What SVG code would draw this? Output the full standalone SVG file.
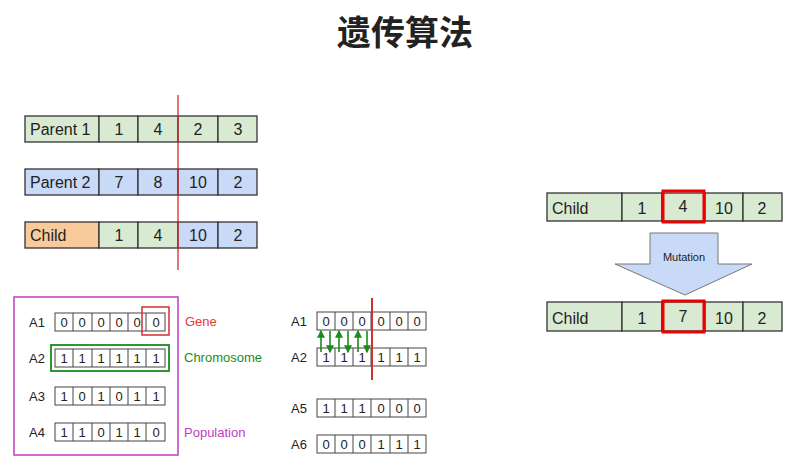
<svg xmlns="http://www.w3.org/2000/svg" width="800" height="469" viewBox="0 0 800 469">
<defs>
<style>
text{font-family:"Liberation Sans",Arial,sans-serif;fill:#222}
.c{text-anchor:middle}
.g{fill:#d9ead3;stroke:#333;stroke-width:1.3}
.b{fill:#c9daf8;stroke:#333;stroke-width:1.3}
.o{fill:#f9cb9c;stroke:#333;stroke-width:1.3}
.w{fill:#fff;stroke:#444;stroke-width:1}
.t{font-size:16px}
.s{font-size:13px}
</style>
<marker id="ah" viewBox="0 0 6 6" refX="5" refY="3" markerWidth="5" markerHeight="5" orient="auto"><path d="M0,0L6,3L0,6z" fill="#1a8c1a"/></marker>
</defs>
<rect width="800" height="469" fill="#fff"/>
<text x="405" y="45" class="c" style="font-family:'Noto Sans CJK SC',serif;font-size:34px;font-weight:bold" fill="#000">遗传算法</text>

<g id="parent1">
<rect class="g" x="25" y="116" width="74" height="26"/><rect class="g" x="99" y="116" width="39" height="26"/><rect class="g" x="138" y="116" width="40" height="26"/><rect class="g" x="178" y="116" width="40" height="26"/><rect class="g" x="218" y="116" width="39" height="26"/>
<text class="t" x="30" y="135">Parent 1</text><text class="t c" x="119" y="135">1</text><text class="t c" x="158" y="135">4</text><text class="t c" x="198" y="135">2</text><text class="t c" x="238" y="135">3</text>
</g>
<g id="parent2">
<rect class="b" x="25" y="169" width="74" height="26"/><rect class="b" x="99" y="169" width="39" height="26"/><rect class="b" x="138" y="169" width="40" height="26"/><rect class="b" x="178" y="169" width="40" height="26"/><rect class="b" x="218" y="169" width="39" height="26"/>
<text class="t" x="30" y="188">Parent 2</text><text class="t c" x="119" y="188">7</text><text class="t c" x="158" y="188">8</text><text class="t c" x="198" y="188">10</text><text class="t c" x="238" y="188">2</text>
</g>
<g id="child">
<rect class="o" x="25" y="222" width="74" height="26"/><rect class="g" x="99" y="222" width="39" height="26"/><rect class="g" x="138" y="222" width="40" height="26"/><rect class="b" x="178" y="222" width="40" height="26"/><rect class="b" x="218" y="222" width="39" height="26"/>
<text class="t" x="30" y="241">Child</text><text class="t c" x="119" y="241">1</text><text class="t c" x="158" y="241">4</text><text class="t c" x="198" y="241">10</text><text class="t c" x="238" y="241">2</text>
</g>
<g id="cut1"><line x1="178" y1="95" x2="178" y2="270" stroke="#d32f2f" stroke-width="1.3"/></g>

<g id="mut-before">
<rect class="g" x="547" y="193" width="75" height="28"/><rect class="g" x="622" y="193" width="40" height="28"/><rect class="g" x="662" y="193" width="43" height="28"/><rect class="g" x="705" y="193" width="38" height="28"/><rect class="g" x="743" y="193" width="39" height="28"/>
<rect x="663" y="191" width="41" height="31" fill="none" stroke="#e00" stroke-width="3"/>
<text class="t" x="552" y="214">Child</text><text class="t c" x="642" y="214">1</text><text class="t c" x="683" y="212">4</text><text class="t c" x="724" y="214">10</text><text class="t c" x="762" y="214">2</text>
</g>
<g id="mutation">
<path d="M650,233H718V264H752L685,295L615,264H650Z" fill="#c9daf8" stroke="#777" stroke-width="1"/>
<text class="c" x="684" y="261" font-size="11">Mutation</text>
</g>
<g id="mut-after">
<rect class="g" x="547" y="302" width="75" height="29"/><rect class="g" x="622" y="302" width="40" height="29"/><rect class="g" x="662" y="302" width="43" height="29"/><rect class="g" x="705" y="302" width="38" height="29"/><rect class="g" x="743" y="302" width="39" height="29"/>
<rect x="663" y="301" width="41" height="31" fill="none" stroke="#e00" stroke-width="3"/>
<text class="t" x="552" y="324">Child</text><text class="t c" x="642" y="324">1</text><text class="t c" x="683" y="322">7</text><text class="t c" x="724" y="324">10</text><text class="t c" x="762" y="324">2</text>
</g>

<g id="population">
<rect x="14" y="297" width="164" height="158" fill="none" stroke="#c03cc0" stroke-width="1.5"/>
<g id="pA1"><text class="s" x="29" y="327">A1</text><rect class="w" x="55" y="313" width="110" height="18"/>
<g class="s c"><text x="64" y="327">0</text><text x="82" y="327">0</text><text x="101" y="327">0</text><text x="119" y="327">0</text><text x="137" y="327">0</text><text x="156" y="327">0</text></g>
<path d="M73,313V331M92,313V331M110,313V331M128,313V331M146,313V331" stroke="#444"/></g>
<g id="pA2"><text class="s" x="29" y="363">A2</text><rect class="w" x="55" y="349" width="110" height="18"/>
<g class="s c"><text x="64" y="363">1</text><text x="82" y="363">1</text><text x="101" y="363">1</text><text x="119" y="363">1</text><text x="137" y="363">1</text><text x="156" y="363">1</text></g>
<path d="M73,349V367M92,349V367M110,349V367M128,349V367M146,349V367" stroke="#444"/></g>
<g id="pA3"><text class="s" x="29" y="401">A3</text><rect class="w" x="55" y="387" width="110" height="18"/>
<g class="s c"><text x="64" y="401">1</text><text x="82" y="401">0</text><text x="101" y="401">1</text><text x="119" y="401">0</text><text x="137" y="401">1</text><text x="156" y="401">1</text></g>
<path d="M73,387V405M92,387V405M110,387V405M128,387V405M146,387V405" stroke="#444"/></g>
<g id="pA4"><text class="s" x="29" y="437">A4</text><rect class="w" x="55" y="423" width="110" height="18"/>
<g class="s c"><text x="64" y="437">1</text><text x="82" y="437">1</text><text x="101" y="437">0</text><text x="119" y="437">1</text><text x="137" y="437">1</text><text x="156" y="437">0</text></g>
<path d="M73,423V441M92,423V441M110,423V441M128,423V441M146,423V441" stroke="#444"/></g>
<rect x="142" y="307" width="27" height="28" fill="none" stroke="#d32f2f" stroke-width="1.5"/>
<rect x="51" y="345" width="118" height="26" fill="none" stroke="#1a8c1a" stroke-width="1.8"/>
<text x="185" y="326" font-size="13" style="fill:#e53935">Gene</text>
<text x="184" y="362" font-size="13" style="fill:#1a8c1a">Chromosome</text>
<text x="184" y="437" font-size="13" style="fill:#c03cc0">Population</text>
</g>

<g id="crossover">
<g id="cA1"><text class="s" x="291" y="326">A1</text><rect class="w" x="317" y="312" width="109" height="18"/>
<g class="s c"><text x="326" y="326">0</text><text x="344" y="326">0</text><text x="362" y="326">0</text><text x="381" y="326">0</text><text x="399" y="326">0</text><text x="417" y="326">0</text></g>
<path d="M335,312V330M353,312V330M371,312V330M390,312V330M408,312V330" stroke="#444"/></g>
<g id="cA2"><text class="s" x="291" y="362">A2</text><rect class="w" x="317" y="348" width="109" height="18"/>
<g class="s c"><text x="326" y="362">1</text><text x="344" y="362">1</text><text x="362" y="362">1</text><text x="381" y="362">1</text><text x="399" y="362">1</text><text x="417" y="362">1</text></g>
<path d="M335,348V366M353,348V366M371,348V366M390,348V366M408,348V366" stroke="#444"/></g>
<g id="cA5"><text class="s" x="291" y="413">A5</text><rect class="w" x="317" y="399" width="109" height="18"/>
<g class="s c"><text x="326" y="413">1</text><text x="344" y="413">1</text><text x="362" y="413">1</text><text x="381" y="413">0</text><text x="399" y="413">0</text><text x="417" y="413">0</text></g>
<path d="M335,399V417M353,399V417M371,399V417M390,399V417M408,399V417" stroke="#444"/></g>
<g id="cA6"><text class="s" x="291" y="449">A6</text><rect class="w" x="317" y="435" width="109" height="18"/>
<g class="s c"><text x="326" y="449">0</text><text x="344" y="449">0</text><text x="362" y="449">0</text><text x="381" y="449">1</text><text x="399" y="449">1</text><text x="417" y="449">1</text></g>
<path d="M335,435V453M353,435V453M371,435V453M390,435V453M408,435V453" stroke="#444"/></g>
</g>
<g id="connectors" stroke="#1a8c1a" stroke-width="1.6" marker-end="url(#ah)">
<line x1="321" y1="352" x2="321" y2="331"/><line x1="330" y1="331" x2="330" y2="352"/>
<line x1="339" y1="352" x2="339" y2="331"/><line x1="348" y1="331" x2="348" y2="352"/>
<line x1="358" y1="352" x2="358" y2="331"/><line x1="367" y1="331" x2="367" y2="352"/>
</g>
<g id="cut2"><line x1="372" y1="298" x2="372" y2="380" stroke="#d32f2f" stroke-width="2"/></g>
</svg>
